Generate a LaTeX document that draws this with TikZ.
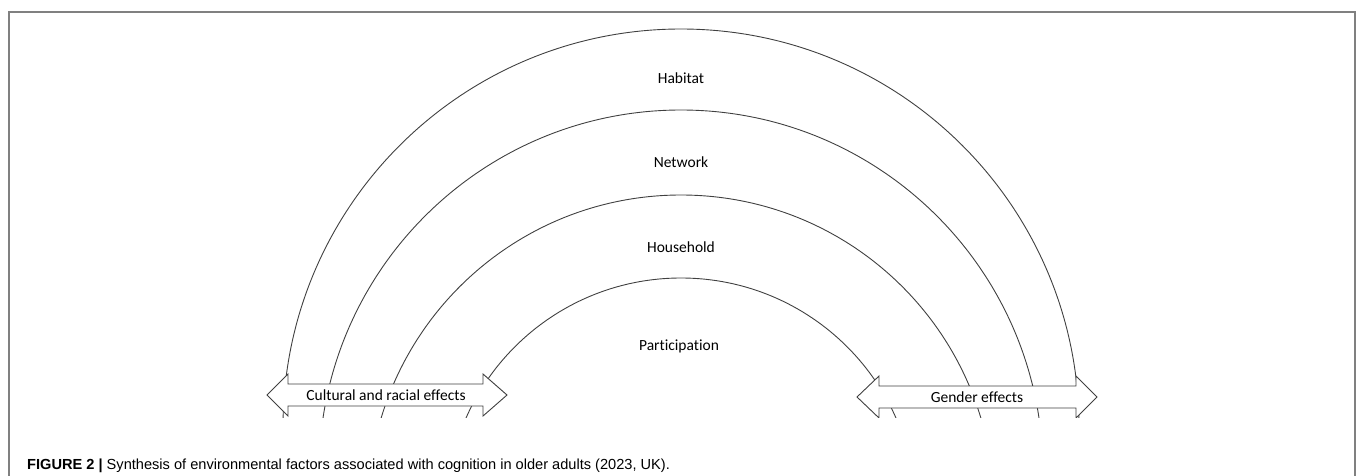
\documentclass[tikz,border=0pt]{standalone}
\usepackage{fontspec}
\setmainfont{Carlito}[Ligatures=NoCommon]
\newfontfamily\capfont{Liberation Sans}

\begin{document}
\begin{tikzpicture}[x=1pt, y=-1pt,
    ring/.style={draw=black!75, line width=0.9pt},
    band/.style={font=\fontsize{15.5}{17}\selectfont},
    effectarrow/.style={draw=black!75, line width=0.9pt, fill=white}]
  \useasboundingbox (0,0) rectangle (1357,476);

  % Frame round the figure (open at the bottom)
  \draw[black!50, line width=1.3pt] (9,476) -- (9,12) -- (1355,12) -- (1355,476);

  \begin{scope}
    \clip (0,0) rectangle (1357,417);
    % The four rings
    \draw[ring] (681,427) circle (398pt);
    \draw[ring] (681,472) circle (362pt);
    \draw[ring] (681,508) circle (313pt);
    \draw[ring] (681,513) circle (235pt);

    % Double arrows laid over the rings
    \draw[effectarrow] (267,395) -- (288,374) -- (288,384) -- (483,384) -- (483,374)
      -- (507,395) -- (483,416) -- (483,406) -- (288,406) -- (288,416) -- cycle;
    \draw[effectarrow] (857,397) -- (879,376) -- (879,386) -- (1076,386) -- (1076,376)
      -- (1097,397) -- (1076,418) -- (1076,408) -- (879,408) -- (879,418) -- cycle;
  \end{scope}

  % Labels of the rings
  \node[band] (habitat) at (681,78) {Habitat};
  \node[band] (network) at (681,162) {Network};
  \node[band] (household) at (681,247) {Household};
  \node[band] (participation) at (679,346) {Participation};

  % Labels of the arrows
  \node[band] (cultural) at (386,395) {Cultural and racial effects};
  \node[band] (gender) at (977,397) {Gender effects};

  \node[anchor=base west, inner sep=0pt] (caption) at (27,469)
    {\capfont\fontsize{14.6}{16}\selectfont\textbf{FIGURE 2 |} Synthesis of environmental factors associated with cognition in older adults (2023, UK).};
\end{tikzpicture}
\end{document}
